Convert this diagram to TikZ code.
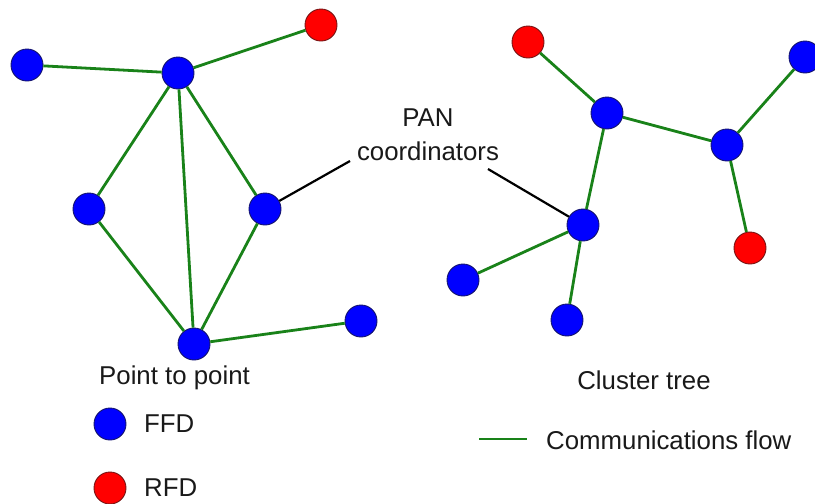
\documentclass[tikz,border=0pt]{standalone}
\usepackage{fontspec}
\setmainfont{Liberation Sans}
\definecolor{ffdblue}{RGB}{0,0,255}
\definecolor{ffdedge}{RGB}{20,20,110}
\definecolor{rfdred}{RGB}{255,0,0}
\definecolor{rfdedge}{RGB}{120,20,20}
\definecolor{flowgreen}{RGB}{25,130,25}
\begin{document}
\begin{tikzpicture}[x=1pt,y=-1pt,
  ffd/.style={circle,draw=ffdedge,fill=ffdblue,line width=0.9pt,minimum size=32pt,inner sep=0pt},
  rfd/.style={circle,draw=rfdedge,fill=rfdred,line width=0.9pt,minimum size=32pt,inner sep=0pt},
  flow/.style={draw=flowgreen,line width=2.8pt},
  pointer/.style={draw=black,line width=2.2pt},
  lbl/.style={font=\fontsize{25.8}{30}\selectfont,inner sep=0pt,text=black!90}]
\useasboundingbox (0,0) rectangle (815,504);

% point-to-point network
\node[ffd] (a) at (27,65) {};
\node[ffd] (b) at (178,73) {};
\node[rfd] (c) at (321,25) {};
\node[ffd] (d) at (89,209) {};
\node[ffd] (e) at (265,209) {};
\node[ffd] (f) at (194,344) {};
\node[ffd] (g) at (361,321) {};
\draw[flow] (a) -- (b);
\draw[flow] (b) -- (c);
\draw[flow] (b) -- (d);
\draw[flow] (b) -- (e);
\draw[flow] (b) -- (f);
\draw[flow] (d) -- (f);
\draw[flow] (e) -- (f);
\draw[flow] (f) -- (g);

% cluster tree network
\node[rfd] (h) at (528,42) {};
\node[ffd] (i) at (607,113) {};
\node[ffd] (j) at (805,57) {};
\node[ffd] (k) at (727,145) {};
\node[rfd] (l) at (750,248) {};
\node[ffd] (m) at (583,225) {};
\node[ffd] (n) at (463,280) {};
\node[ffd] (o) at (567,320) {};
\draw[flow] (h) -- (i);
\draw[flow] (i) -- (k);
\draw[flow] (k) -- (j);
\draw[flow] (k) -- (l);
\draw[flow] (i) -- (m);
\draw[flow] (m) -- (n);
\draw[flow] (m) -- (o);

% PAN coordinator callout
\node[lbl,align=center] (pan) at (428,135) {PAN\\[4pt]coordinators};
\coordinate (pl) at (350,161);
\coordinate (pr) at (488,169);
\draw[pointer] (pl) -- (e);
\draw[pointer] (pr) -- (m);

% captions
\node[lbl,anchor=west] (cap1) at (99,378) {Point to point};
\node[lbl] (cap2) at (644,380) {Cluster tree};

% legend
\node[ffd] (kffd) at (110,424) {};
\node[lbl,anchor=west] (tffd) at (144,424) {FFD};
\node[rfd] (krfd) at (110,488) {};
\node[lbl,anchor=west] (trfd) at (144,488) {RFD};
\coordinate (fl1) at (479,439);
\coordinate (fl2) at (527,439);
\draw[flow] (fl1) -- (fl2);
\node[lbl,anchor=west] (tflow) at (546,440) {Communications flow};
\end{tikzpicture}
\end{document}
